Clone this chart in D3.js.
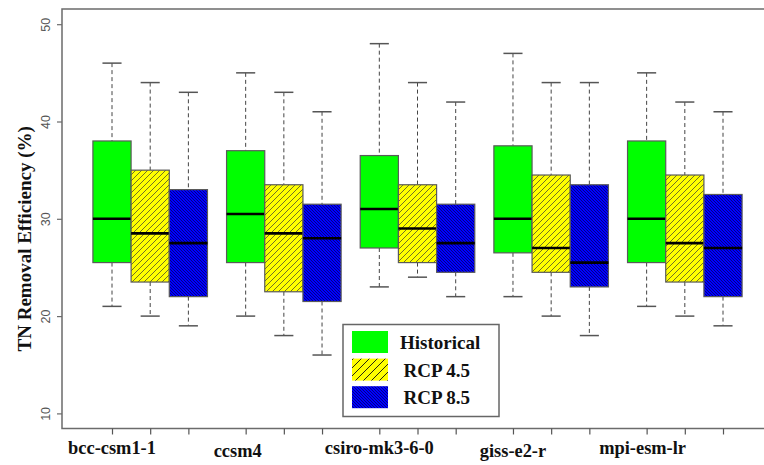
<!DOCTYPE html>
<html>
<head>
<meta charset="utf-8">
<script src="https://cdn.jsdelivr.net/npm/d3@7"></script>
<style>
  html, body { margin: 0; padding: 0; background: #fff; }
  svg { display: block; }
</style>
</head>
<body>
<svg id="chart" width="764" height="465"></svg>
<script>
// Climate models (x-axis groups)
const models = ["bcc-csm1-1", "ccsm4", "csiro-mk3-6-0", "giss-e2-r", "mpi-esm-lr"];
// Scenarios drawn side by side within each model
const scenarios = ["Historical", "RCP 4.5", "RCP 8.5"];

// Five-number summaries per scenario, one entry per model: [min, Q1, median, Q3, max]
const historical = [
  [21, 25.5, 30, 38, 46],
  [20, 25.5, 30.5, 37, 45],
  [23, 27, 31, 36.5, 48],
  [22, 26.5, 30, 37.5, 47],
  [21, 25.5, 30, 38, 45]
];
const rcp45 = [
  [20, 23.5, 28.5, 35, 44],
  [18, 22.5, 28.5, 33.5, 43],
  [24, 25.5, 29, 33.5, 44],
  [20, 24.5, 27, 34.5, 44],
  [20, 23.5, 27.5, 34.5, 42]
];
const rcp85 = [
  [19, 22, 27.5, 33, 43],
  [16, 21.5, 28, 31.5, 41],
  [22, 24.5, 27.5, 31.5, 42],
  [18, 23, 25.5, 33.5, 44],
  [19, 22, 27, 32.5, 41]
];
const yTicks = [10, 20, 30, 40, 50];
const yTitle = "TN Removal Efficiency (%)";

const seriesStats = [historical, rcp45, rcp85];
const fills = ["#00ff00", "url(#hatchYellow)", "url(#hatchBlue)"];
const legendFills = ["#00ff00", "url(#hatchYellowL)", "url(#hatchBlueL)"];

const svg = d3.select("#chart");

// ---- hatch patterns ----
const defs = svg.append("defs");
function hatch(id, bg, size, dir, stroke, sw) {
  const p = defs.append("pattern")
    .attr("id", id)
    .attr("patternUnits", "userSpaceOnUse")
    .attr("width", size).attr("height", size);
  p.append("rect").attr("width", size).attr("height", size).attr("fill", bg);
  const s = size;
  // main diagonal plus neighbours so the lines join across tiles
  const lines = dir === "/"
    ? [[0, s, s, 0], [-s / 2, s / 2, s / 2, -s / 2], [s / 2, 3 * s / 2, 3 * s / 2, s / 2]]
    : [[0, 0, s, s], [-s / 2, s / 2, s / 2, 3 * s / 2], [s / 2, -s / 2, 3 * s / 2, s / 2]];
  lines.forEach(l => p.append("line")
    .attr("x1", l[0]).attr("y1", l[1]).attr("x2", l[2]).attr("y2", l[3])
    .attr("stroke", stroke).attr("stroke-width", sw));
}
hatch("hatchYellow", "#ffff00", 6, "/", "#333", 0.7);
hatch("hatchBlue", "#0000ff", 3, "\\", "#000033", 0.6);
hatch("hatchYellowL", "#ffff00", 8, "/", "#111", 0.9);
hatch("hatchBlueL", "#0000ff", 3, "\\", "#000033", 0.6);

// ---- scales ----
// slot index: groups of three adjacent boxes, half a slot gap between groups
const slot = (g, s) => g * 3.5 + s;
const x = d3.scaleLinear().domain([0, slot(4, 2)]).range([112, 723]);
const boxW = x(1) - x(0);
const y = d3.scaleLinear().domain([10, 50]).range([413.4, 24.2]);

const frameLeft = 62, frameRight = 764;
const frameTop = y(51.55), frameBottom = y(8.45);

// ---- plot frame (left, top, bottom) ----
const frameColor = "#6b6b6b";
svg.append("path")
  .attr("d", `M${frameRight},${frameTop}H${frameLeft}V${frameBottom}H${frameRight}`)
  .attr("fill", "none").attr("stroke", frameColor).attr("stroke-width", 1.5);

// ---- y axis ----
const yAxis = svg.append("g").attr("transform", `translate(${frameLeft},0)`)
  .call(d3.axisLeft(y).tickValues(yTicks).tickSize(5).tickPadding(0).tickFormat(d3.format("d")));
yAxis.select(".domain").remove();
yAxis.selectAll(".tick line").attr("stroke", frameColor).attr("stroke-width", 1.2);
yAxis.selectAll(".tick text")
  .attr("transform", "rotate(-90)")
  .attr("x", 0).attr("y", -12).attr("dy", 0)
  .attr("text-anchor", "middle")
  .attr("font-family", "'Liberation Sans', Arial, sans-serif")
  .attr("font-size", 12.5)
  .attr("fill", "#555");

svg.append("text")
  .attr("transform", `translate(31,${y(30) + 20}) rotate(-90)`)
  .attr("text-anchor", "middle")
  .attr("font-family", "'Liberation Serif', 'Times New Roman', serif")
  .attr("font-weight", "bold")
  .attr("font-size", 19)
  .attr("fill", "#111")
  .text(yTitle);

// ---- x axis ticks at every box ----
const tickSlots = [];
models.forEach((m, g) => scenarios.forEach((sc, s) => tickSlots.push(slot(g, s))));
const xAxis = svg.append("g").attr("transform", `translate(0,${frameBottom})`)
  .call(d3.axisBottom(x).tickValues(tickSlots).tickSize(6).tickFormat(""));
xAxis.select(".domain").remove();
xAxis.selectAll(".tick line").attr("stroke", "#555").attr("stroke-width", 1.2);

// model labels under the first box of each group
svg.append("g").selectAll("text").data(models).join("text")
  .attr("x", (d, g) => x(slot(g, 0)) - (g === 1 ? 8 : g === 4 ? 4 : 0))
  .attr("y", (d, g) => g % 2 ? 457 : 453.5)
  .attr("text-anchor", "middle")
  .attr("font-family", "'Liberation Serif', 'Times New Roman', serif")
  .attr("font-weight", "bold")
  .attr("font-size", 18.4)
  .attr("fill", "#111")
  .text(d => d);

// ---- boxes ----
const boxes = [];
seriesStats.forEach((stats, s) => stats.forEach((v, g) => boxes.push({ g, s, v })));

const bg = svg.append("g").selectAll("g").data(boxes).join("g");
const capW = boxW * 0.5;
// whiskers (dashed)
bg.append("line")
  .attr("x1", d => x(slot(d.g, d.s))).attr("x2", d => x(slot(d.g, d.s)))
  .attr("y1", d => y(d.v[4])).attr("y2", d => y(d.v[3]))
  .attr("stroke", "#444").attr("stroke-width", 1).attr("stroke-dasharray", "4,3");
bg.append("line")
  .attr("x1", d => x(slot(d.g, d.s))).attr("x2", d => x(slot(d.g, d.s)))
  .attr("y1", d => y(d.v[1])).attr("y2", d => y(d.v[0]))
  .attr("stroke", "#444").attr("stroke-width", 1).attr("stroke-dasharray", "4,3");
// caps
[0, 4].forEach(i => bg.append("line")
  .attr("x1", d => x(slot(d.g, d.s)) - capW / 2).attr("x2", d => x(slot(d.g, d.s)) + capW / 2)
  .attr("y1", d => y(d.v[i])).attr("y2", d => y(d.v[i]))
  .attr("stroke", "#555").attr("stroke-width", 1.5));
// box body
bg.append("rect")
  .attr("x", d => x(slot(d.g, d.s)) - boxW / 2)
  .attr("width", boxW)
  .attr("y", d => y(d.v[3]))
  .attr("height", d => y(d.v[1]) - y(d.v[3]))
  .attr("fill", d => fills[d.s])
  .attr("stroke", "#5a5a5a").attr("stroke-width", 1.2);
// median
bg.append("line")
  .attr("x1", d => x(slot(d.g, d.s)) - boxW / 2).attr("x2", d => x(slot(d.g, d.s)) + boxW / 2)
  .attr("y1", d => y(d.v[2])).attr("y2", d => y(d.v[2]))
  .attr("stroke", "#000").attr("stroke-width", 2.6);

// ---- legend ----
const lg = svg.append("g");
lg.append("rect")
  .attr("x", 343).attr("y", 324.5).attr("width", 156).attr("height", 92)
  .attr("fill", "#fff").attr("stroke", "#666").attr("stroke-width", 1.5);
scenarios.forEach((name, i) => {
  const ty = 331 + i * 27.6;
  lg.append("rect").attr("x", 352).attr("y", ty).attr("width", 36).attr("height", 22)
    .attr("fill", legendFills[i]);
  lg.append("text")
    .attr("x", i === 0 ? 400 : 403.5).attr("y", ty + 18)
    .attr("font-family", "'Liberation Serif', 'Times New Roman', serif")
    .attr("font-weight", "bold")
    .attr("font-size", 19)
    .attr("fill", "#111")
    .text(name);
});
</script>
</body>
</html>
